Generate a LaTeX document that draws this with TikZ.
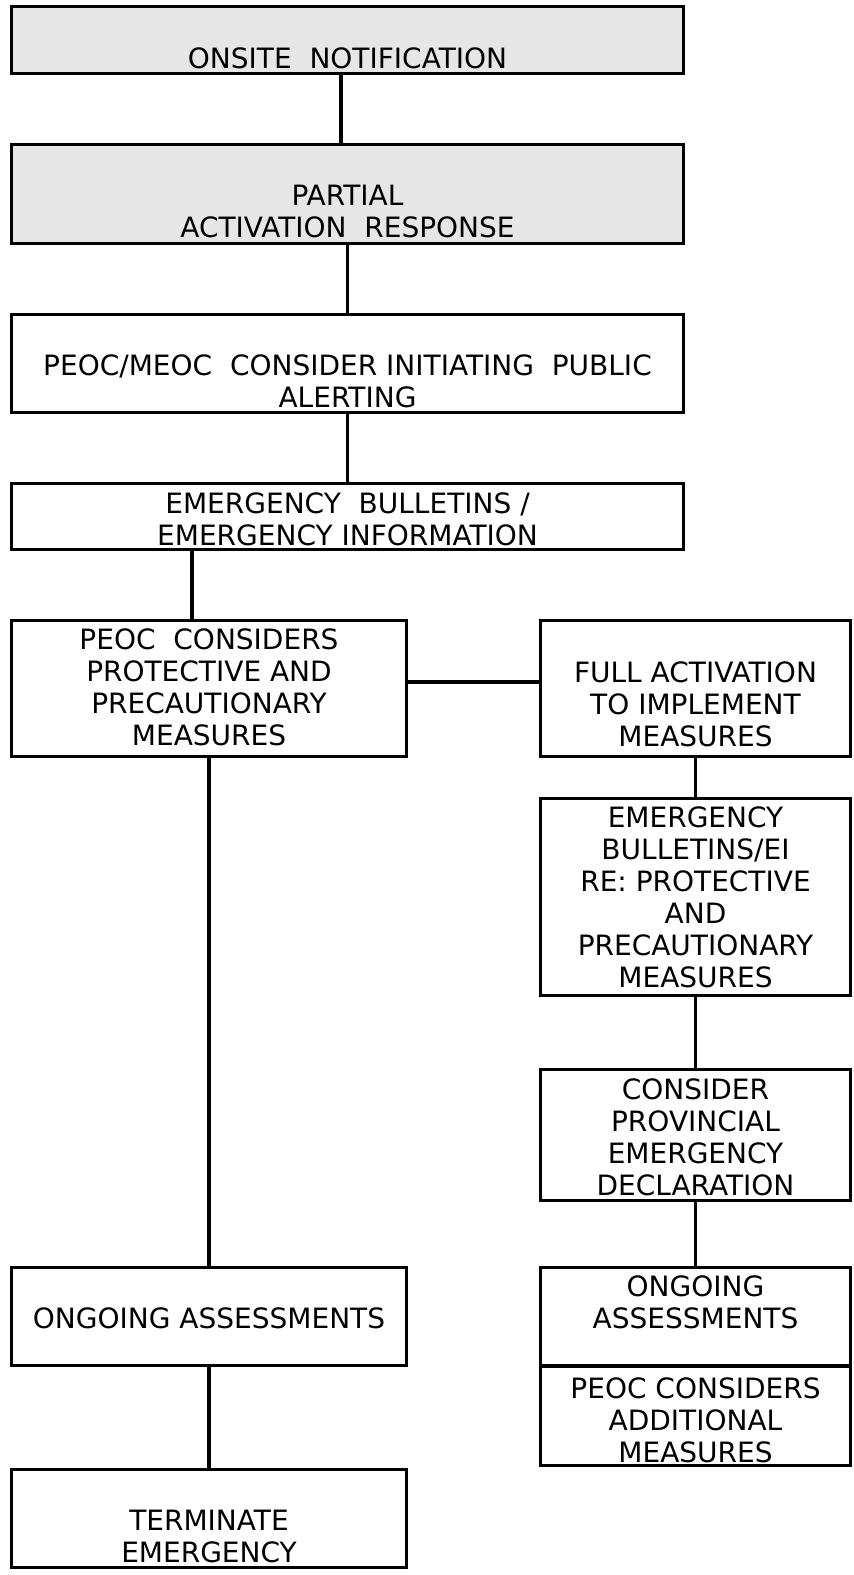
\documentclass[tikz,border=0pt]{standalone}
\usepackage{fontspec}
\setmainfont{DejaVu Sans}
\definecolor{boxgray}{HTML}{E6E6E6}
\begin{document}
\begin{tikzpicture}[x=1pt,y=-1pt,
  box/.style={draw=black,line width=3.4pt,rectangle,inner sep=0pt,fill=white},
  graybox/.style={box,fill=boxgray},
  txt/.style={anchor=north,inner sep=0pt,align=center,font=\fontsize{28}{32}\selectfont},
  conn/.style={line width=3.4pt}]
\useasboundingbox (0,0) rectangle (854,1575);
% boxes
\node[graybox,minimum width=671.6pt,minimum height=66.6pt] (b1) at (347.5,40) {};
\node[graybox,minimum width=671.6pt,minimum height=98.6pt] (b2) at (347.5,194) {};
\node[box,minimum width=671.6pt,minimum height=97.6pt] (b3) at (347.5,363.5) {};
\node[box,minimum width=671.6pt,minimum height=65.6pt] (b4) at (347.5,516.5) {};
\node[box,minimum width=394.6pt,minimum height=135.6pt] (b5) at (209,688.5) {};
\node[box,minimum width=309.6pt,minimum height=135.6pt] (b6) at (695.5,688.5) {};
\node[box,minimum width=309.6pt,minimum height=196.6pt] (b7) at (695.5,897) {};
\node[box,minimum width=309.6pt,minimum height=130.6pt] (b8) at (695.5,1135) {};
\node[box,minimum width=394.6pt,minimum height=97.6pt] (b9) at (209,1316.5) {};
\node[box,minimum width=309.6pt,minimum height=98.3pt] (b9r) at (695.5,1316.85) {};
\node[box,minimum width=309.6pt,minimum height=99.3pt] (b9s) at (695.5,1415.65) {};
\node[box,minimum width=394.6pt,minimum height=97.6pt] (b10) at (209,1518.5) {};
% texts
\node[txt] (t1) at (347.5,47.5) {ONSITE\ \ NOTIFICATION};
\node[txt] (t2) at (347.5,185) {PARTIAL\\ACTIVATION\ \ RESPONSE};
\node[txt] (t3) at (347.5,355) {PEOC/MEOC\ \ CONSIDER INITIATING\ \ PUBLIC\\ALERTING};
\node[txt] (t4) at (347.5,493) {EMERGENCY\ \ BULLETINS /\\EMERGENCY INFORMATION};
\node[txt] (t5) at (209,629) {PEOC\ \ CONSIDERS\\PROTECTIVE AND\\PRECAUTIONARY\\MEASURES};
\node[txt] (t6) at (695.5,662) {FULL ACTIVATION\\TO IMPLEMENT\\MEASURES};
\node[txt] (t7) at (695.5,807) {EMERGENCY\\BULLETINS/EI\\RE: PROTECTIVE\\AND\\PRECAUTIONARY\\MEASURES};
\node[txt] (t8) at (695.5,1079) {CONSIDER\\PROVINCIAL\\EMERGENCY\\DECLARATION};
\node[txt] (t9) at (209,1308) {ONGOING ASSESSMENTS};
\node[txt] (t9r) at (695.5,1276) {ONGOING\\ASSESSMENTS};
\node[txt] (t9s) at (695.5,1377) {PEOC CONSIDERS\\ADDITIONAL\\MEASURES};
\node[txt] (t10) at (209,1510) {TERMINATE\\EMERGENCY};
% connectors
\draw[conn] ([xshift=-6.5pt]b1.south) -- ([xshift=-6.5pt]b2.north);
\draw[conn] (b2.south) -- (b3.north);
\draw[conn] (b3.south) -- (b4.north);
\draw[conn] ([xshift=-17pt]b5.north) -- ([xshift=-17pt]b5.north |- b4.south);
\draw[conn] ([yshift=6.5pt]b5.east) -- ([yshift=6.5pt]b6.west);
\draw[conn] (b5.south) -- (b9.north);
\draw[conn] (b6.south) -- (b7.north);
\draw[conn] (b7.south) -- (b8.north);
\draw[conn] (b8.south) -- (b9r.north);
\draw[conn] (b9.south) -- (b10.north);
\end{tikzpicture}
\end{document}
